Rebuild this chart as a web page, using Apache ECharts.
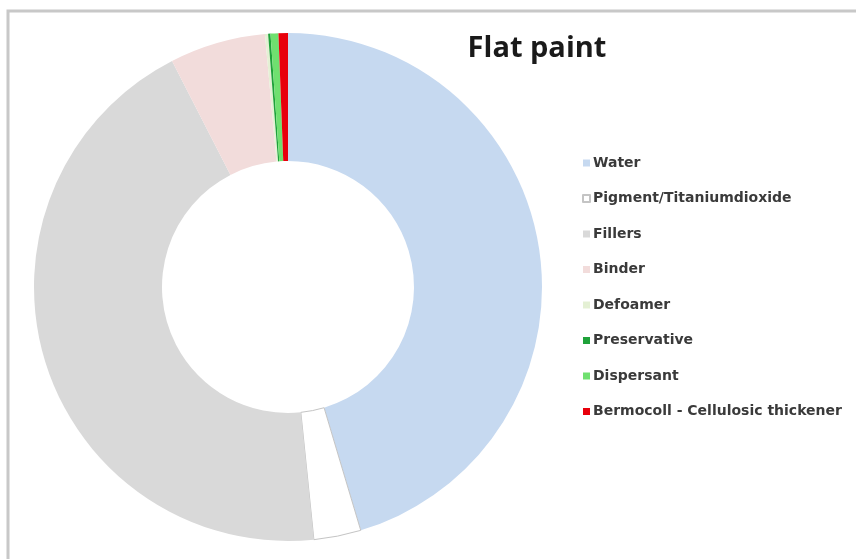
<!DOCTYPE html>
<html>
<head>
<meta charset="utf-8">
<title>Flat paint</title>
<script src="https://cdn.jsdelivr.net/npm/echarts@6/dist/echarts.min.js"></script>
<style>
  html, body { margin: 0; padding: 0; background: #ffffff; }
  #chart { width: 856px; height: 559px; }
</style>
</head>
<body>
<div id="chart"></div>
<script>
// Composition of a flat paint formulation (percent by weight)
const ingredients = [
  'Water',
  'Pigment/Titaniumdioxide',
  'Fillers',
  'Binder',
  'Defoamer',
  'Preservative',
  'Dispersant',
  'Bermocoll - Cellulosic thickener'
];
const shares = [45.4, 3.0, 44.1, 6.1, 0.2, 0.15, 0.5, 0.6];
const sliceColors = ['#c6d9f0', '#ffffff', '#d9d9d9', '#f2dcdb', '#e4f0d4', '#1fa23a', '#6fe06f', '#e8000b'];

const chart = echarts.init(document.getElementById('chart'), null, { renderer: 'canvas' });

const pieData = ingredients.map((name, i) => {
  const item = { name: name, value: shares[i], itemStyle: { color: sliceColors[i] } };
  if (name === 'Pigment/Titaniumdioxide') {
    item.itemStyle.borderColor = '#c4c4c4';
    item.itemStyle.borderWidth = 1;
  }
  return item;
});

chart.setOption({
  animation: false,
  backgroundColor: '#ffffff',
  title: {
    text: 'Flat paint',
    left: 532,
    top: 29,
    textAlign: 'center',
    textStyle: {
      fontFamily: 'Open Sans',
      fontWeight: 'bold',
      fontSize: 29,
      color: '#1a1a1a'
    }
  },
  legend: {
    orient: 'vertical',
    left: 577,
    top: 151,
    icon: 'rect',
    itemWidth: 7,
    itemHeight: 7,
    itemGap: 21.5,
    selectedMode: false,
    data: ingredients,
    textStyle: {
      fontFamily: 'DejaVu Sans',
      fontWeight: 'bold',
      fontSize: 14,
      color: '#3a3a3a',
      padding: [0, 0, 0, -2]
    }
  },
  graphic: [
    {
      type: 'polyline',
      shape: { points: [[8, 559], [8, 11], [856, 11]] },
      style: { stroke: '#c8c8c8', lineWidth: 3, fill: null },
      silent: true
    }
  ],
  series: [
    {
      type: 'pie',
      center: [288, 287],
      radius: [126, 254],
      startAngle: 90,
      clockwise: true,
      avoidLabelOverlap: false,
      label: { show: false },
      labelLine: { show: false },
      emphasis: { disabled: true },
      itemStyle: { borderWidth: 0 },
      data: pieData
    }
  ]
});
</script>
</body>
</html>
